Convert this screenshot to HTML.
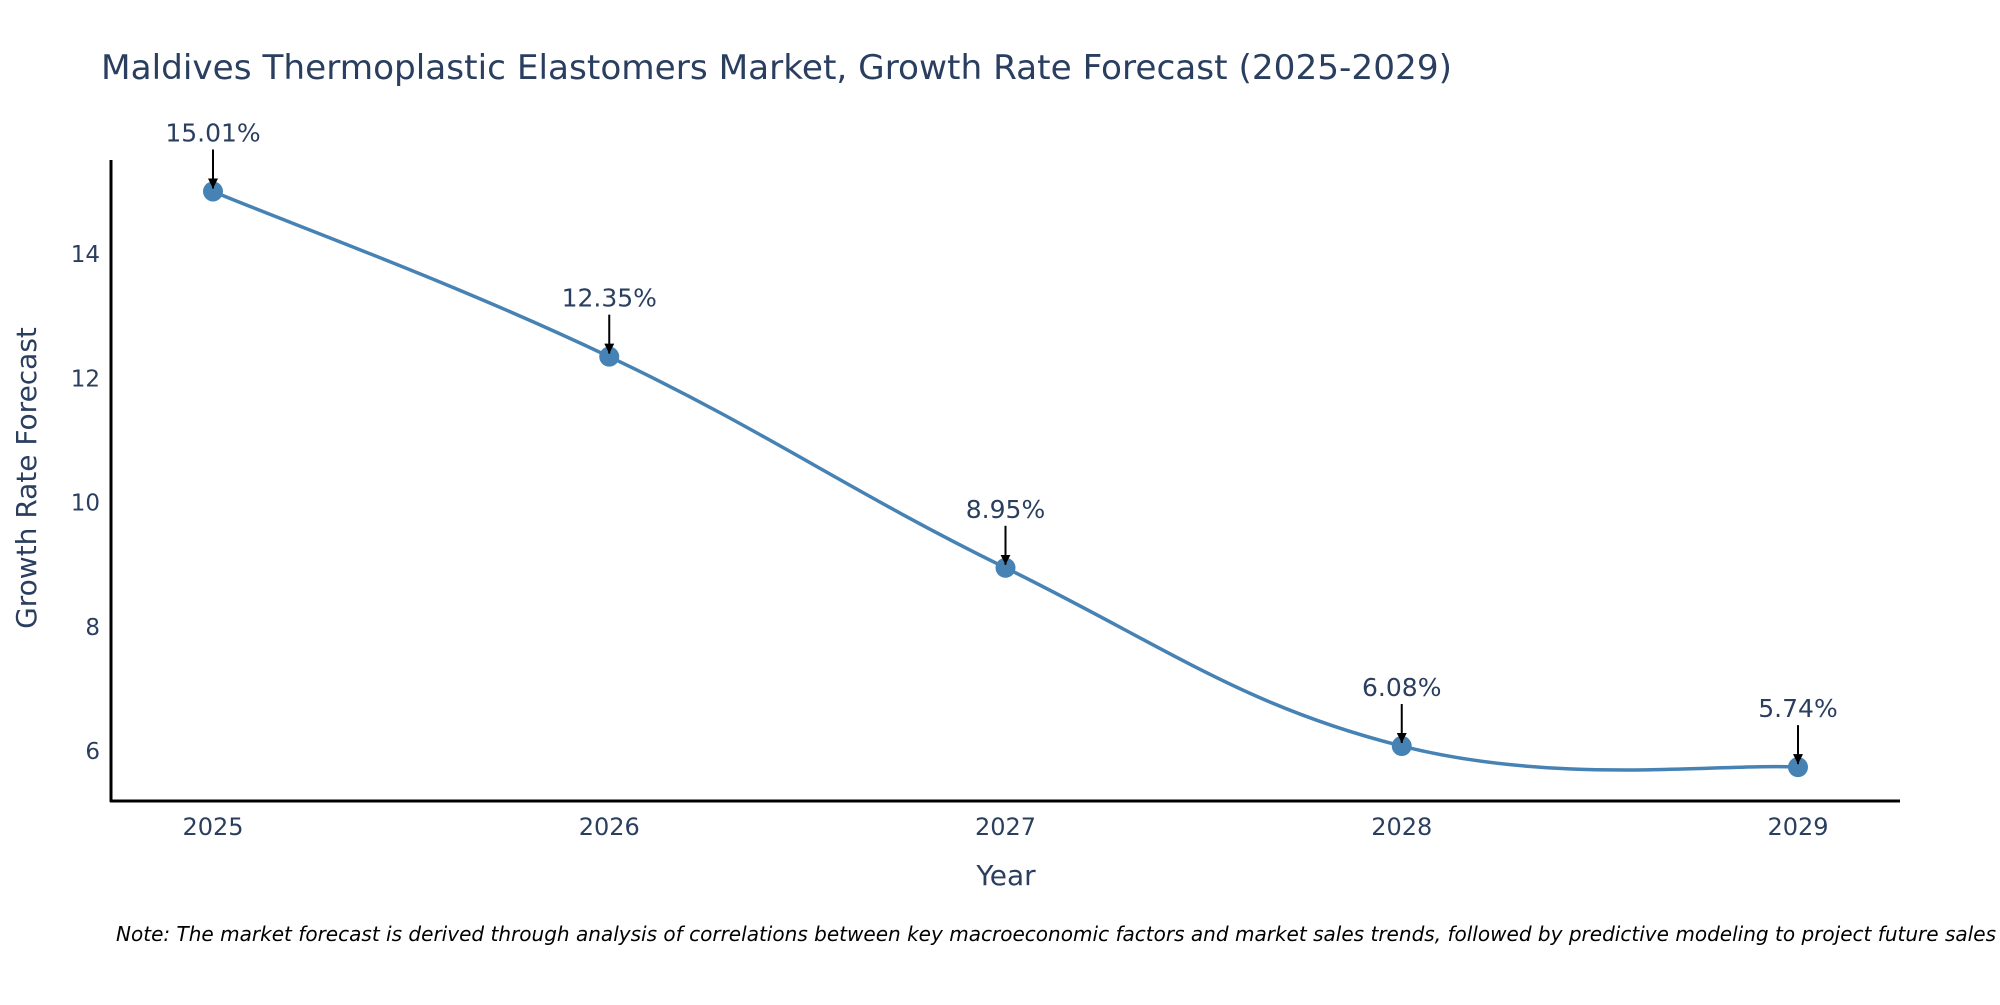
<!DOCTYPE html>
<html><head><meta charset="utf-8"><style>
html,body{margin:0;padding:0;background:#fff;}
svg text{font-family:"DejaVu Sans","Liberation Sans",sans-serif;fill:#2a3f5f;}
</style></head><body>
<svg id="chart" width="2000" height="1000" xmlns="http://www.w3.org/2000/svg">
<defs><marker id="ah" viewBox="0 0 10 10" refX="10" refY="5" markerWidth="5" markerHeight="5" orient="auto"><path d="M0,0 L10,5 L0,10 Z" fill="#000"/></marker></defs>
<text x="101" y="79" font-size="34" textLength="1351" lengthAdjust="spacingAndGlyphs">Maldives Thermoplastic Elastomers Market, Growth Rate Forecast (2025-2029)</text>
<g id="yticks"></g><g id="xticks"></g>
<path id="line" fill="none" stroke="#4682b4" stroke-width="3.5"/>
<g id="pts"></g><g id="ann"></g>
<line x1="111" y1="160" x2="111" y2="802" stroke="#000" stroke-width="3"/>
<line x1="110" y1="801" x2="1900" y2="801" stroke="#000" stroke-width="3"/>
<text x="1006" y="885" font-size="28" text-anchor="middle">Year</text>
<text transform="translate(36,478) rotate(-90)" font-size="28" text-anchor="middle">Growth Rate Forecast</text>
<text x="116" y="941" font-size="20" font-style="italic" style="fill:#000" textLength="1880" lengthAdjust="spacingAndGlyphs">Note: The market forecast is derived through analysis of correlations between key macroeconomic factors and market sales trends, followed by predictive modeling to project future sales</text>
</svg>
<script>
const years=[2025,2026,2027,2028,2029];
const values=[15.01,12.35,8.95,6.08,5.74];
const labels=["15.01%","12.35%","8.95%","6.08%","5.74%"];
const yTicks=[6,8,10,12,14];
const NS="http://www.w3.org/2000/svg";
const xs=y=>213+(y-2025)*396.25;
const ys=v=>751-(v-6)*62.1;
function mk(t,a,p){const e=document.createElementNS(NS,t);for(const k in a)e.setAttribute(k,a[k]);p.appendChild(e);return e;}
const yt=document.getElementById('yticks');
yTicks.forEach(t=>{const e=mk('text',{x:100,y:ys(t)+8,'font-size':23,'text-anchor':'end'},yt);

e.textContent=t;});
const xt=document.getElementById('xticks');
years.forEach(y=>{const e=mk('text',{x:xs(y),y:835,'font-size':24,'text-anchor':'middle'},xt);

e.textContent=y;});
const P=years.map((y,i)=>[xs(y),ys(values[i])]);
let d=`M${P[0][0]},${P[0][1]}`;const s=0.2;
for(let i=0;i<P.length-1;i++){const p0=P[Math.max(i-1,0)],p1=P[i],p2=P[i+1],p3=P[Math.min(i+2,P.length-1)];
d+=` C${p1[0]+(p2[0]-p0[0])*s},${p1[1]+(p2[1]-p0[1])*s} ${p2[0]-(p3[0]-p1[0])*s},${p2[1]-(p3[1]-p1[1])*s} ${p2[0]},${p2[1]}`;}
document.getElementById('line').setAttribute('d',d);
const pts=document.getElementById('pts'),ann=document.getElementById('ann');
P.forEach((p,i)=>{const c=mk('circle',{cx:p[0],cy:p[1],r:10,fill:'#4682b4'},pts);


const l=mk('line',{x1:p[0],y1:p[1]-42,x2:p[0],y2:p[1]-3,stroke:'#000','stroke-width':2,'marker-end':'url(#ah)'},ann);


const t=mk('text',{x:p[0],y:p[1]-50,'font-size':25,'text-anchor':'middle'},ann);

t.textContent=labels[i];});
</script>
</body></html>
